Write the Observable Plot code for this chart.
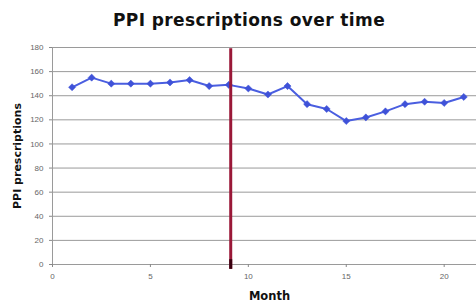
<!DOCTYPE html>
<html>
<head>
<meta charset="utf-8">
<script src="https://cdn.jsdelivr.net/npm/d3@7"></script>
<script src="https://cdn.jsdelivr.net/npm/@observablehq/plot@0.6"></script>
<style>
body{margin:0;background:#fff;width:476px;height:301px;overflow:hidden;}
#title{height:36px;line-height:40px;text-align:center;font-family:"DejaVu Sans","Liberation Sans",Arial,sans-serif;font-weight:900;font-size:17px;letter-spacing:0.4px;color:#111;padding-left:22px;box-sizing:border-box;white-space:nowrap;}
</style>
</head>
<body>
<div id="title">PPI prescriptions over time</div>
<div id="chart"></div>
<script>
const months = [1,2,3,4,5,6,7,8,9,10,11,12,13,14,15,16,17,18,19,20,21];
const prescriptions = [147,155,150,150,150,151,153,148,149,146,141,148,133,129,119,122,127,133,135,134,139];
const interventionMonth = 9.1;
const yTicks = [0,20,40,60,80,100,120,140,160,180];
const xTicks = [0,5,10,15,20];

const data = months.map((m,i)=>({month:m, value:prescriptions[i]}));

const chart = Plot.plot({
  width:476, height:265,
  marginTop:11, marginBottom:37, marginLeft:52, marginRight:0,
  style:{fontFamily:"Liberation Sans, Arial, sans-serif", fontSize:"8px", color:"#555", background:"#fff"},
  x:{domain:[0,21.65], ticks:xTicks, tickSize:3, tickPadding:4, label:null},
  y:{domain:[0,180], ticks:yTicks, tickSize:3, tickPadding:4, label:null},
  marks:[
    Plot.ruleY(yTicks, {stroke:"#9a9a9a", strokeWidth:1}),
    Plot.ruleX([0], {stroke:"#9a9a9a"}),
    Plot.axisX({ticks:xTicks, tickSize:3, stroke:"#888", fill:"#666", label:null}),
    Plot.axisY({ticks:yTicks, tickSize:3, stroke:"#888", fill:"#666", label:null}),
    Plot.line(data, {x:"month", y:"value", stroke:"#4a5ee0", strokeWidth:2}),
    Plot.dot(data, {x:"month", y:"value", symbol:"diamond2", r:3.2, fill:"#3f52d8", stroke:"#3f52d8", strokeWidth:0.5}),
    Plot.ruleX([interventionMonth], {y1:-4, y2:179, stroke:"#9a1838", strokeWidth:3}),
    Plot.ruleX([interventionMonth], {y1:-4, y2:4, stroke:"#3a0010", strokeWidth:3}),
    Plot.text(["Month"], {frameAnchor:"bottom", dy:35, dx:5, fontWeight:"900", fontSize:11.5, fill:"#111", fontFamily:"DejaVu Sans"}),
    Plot.text(["PPI prescriptions"], {frameAnchor:"left", textAnchor:"middle", dx:-35, rotate:-90, fontWeight:"900", fontSize:11, fill:"#111", fontFamily:"DejaVu Sans"})
  ]
});
document.getElementById("chart").appendChild(chart);
</script>
</body>
</html>
